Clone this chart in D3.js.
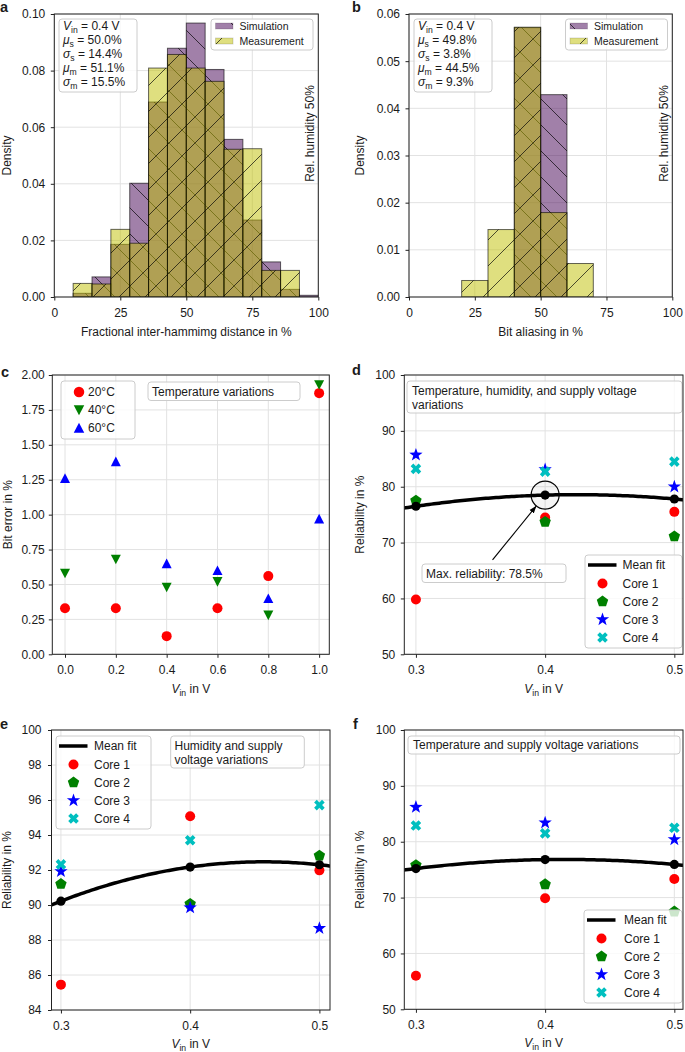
<!DOCTYPE html>
<html><head><meta charset="utf-8">
<script src="https://cdn.jsdelivr.net/npm/d3@7"></script>
<style>
body{margin:0;background:#fff}
svg{display:block}
text{font-family:"Liberation Sans",Arial,Helvetica,sans-serif;fill:#1a1a1a}
</style>
</head><body>
<svg id="chart" width="685" height="1052"></svg>
<script>
// ---------------- DATA ----------------
// Panel a: fractional inter-hamming distance histogram (density)
const binEdgesA = [0, 7.14, 14.29, 21.43, 28.57, 35.71, 42.86, 50, 57.14, 64.29, 71.43, 78.57, 85.71, 92.86, 100];
const simA  = [0, 0.0013, 0.0071, 0.0186, 0.0402, 0.0689, 0.0879, 0.0968, 0.0804, 0.0557, 0.0272, 0.0124, 0.0027, 0.0006];
const measA = [0, 0.0048, 0.0046, 0.0239, 0.0190, 0.0809, 0.0857, 0.0809, 0.0762, 0.0522, 0.0524, 0.0094, 0.0094, 0];
const statsA = ["0.4", "50.0", "14.4", "51.1", "15.5"];
// Panel b: bit aliasing histogram
const binEdgesB = [20, 30, 40, 50, 60, 70];
const simB  = [0, 0, 0.0571, 0.0429, 0];
const measB = [0.0035, 0.0143, 0.0572, 0.0179, 0.0071];
const statsB = ["0.4", "49.8", "3.8", "44.5", "9.3"];
// Panel c: bit error vs Vin at three temperatures
const vinC = [0.0, 0.2, 0.4, 0.6, 0.8, 1.0];
const err20 = [0.33, 0.33, 0.13, 0.33, 0.56, 1.87];
const err40 = [0.58, 0.68, 0.48, 0.52, 0.28, 1.93];
const err60 = [1.26, 1.38, 0.65, 0.60, 0.40, 0.97];
const tempLabels = ["20°C", "40°C", "60°C"];
// Panels d, e, f: reliability vs Vin for four cores
const vinR = [0.3, 0.4, 0.5];
const coreLabels = ["Core 1", "Core 2", "Core 3", "Core 4"];
const relD = [[59.8, 74.5, 75.5], [77.5, 73.7, 71.1], [85.7, 83.1, 80.0], [83.2, 82.7, 84.5]];
const meanD = [76.5, 78.5, 77.8];
const relE = [[85.45, 95.07, 91.98], [91.2, 90.06, 92.82], [91.92, 89.85, 88.67], [92.32, 93.7, 95.71]];
const meanE = [90.22, 92.17, 92.3];
const relF = [[56.0, 69.87, 73.33], [75.8, 72.37, 67.5], [86.2, 83.4, 80.4], [82.9, 81.5, 82.5]];
const meanF = [75.2, 76.8, 75.93];
// tick values
const ticksPct = [0, 25, 50, 75, 100];
const ticksDensA = [0, 0.02, 0.04, 0.06, 0.08, 0.10];
const ticksDensB = [0, 0.01, 0.02, 0.03, 0.04, 0.05, 0.06];
const ticksVinC = [0, 0.2, 0.4, 0.6, 0.8, 1.0];
const ticksErr = [0, 0.25, 0.5, 0.75, 1.0, 1.25, 1.5, 1.75, 2.0];
const ticksVinR = [0.3, 0.4, 0.5];
const ticksRel50 = [50, 60, 70, 80, 90, 100];
const ticksRel84 = [84, 86, 88, 90, 92, 94, 96, 98, 100];

// ---------------- STYLE ----------------
const simColor = "#440154", measColor = "#bfbf00";
const coreColors = ["#ff0000", "#008000", "#0000ff", "#00bfbf"];
const coreShapes = ["circle", "pentagon", "star", "x"];
const tempColors = ["#ff0000", "#008000", "#0000ff"];
const tempShapes = ["circle", "tridown", "triup"];
const HS = 26; // hatch spacing

const svg = d3.select("#chart");
const defs = svg.append("defs");

function makeHatch(id, back) {
  const p = defs.append("pattern").attr("id", id).attr("patternUnits", "userSpaceOnUse")
    .attr("width", HS).attr("height", HS);
  const d = back
    ? `M0,0L${HS},${HS}M-3,${HS-3}L3,${HS+3}M${HS-3},-3L${HS+3},3`
    : `M0,${HS}L${HS},0M-3,3L3,-3M${HS-3},${HS+3}L${HS+3},${HS-3}`;
  p.append("path").attr("d", d).attr("stroke", "#000").attr("stroke-width", 0.9)
    .attr("stroke-opacity", 0.75).attr("fill", "none");
}
makeHatch("hback", true);
makeHatch("hfwd", false);

function markerPath(type, s) {
  const r = s || 1;
  switch (type) {
    case "circle": return d3.symbol(d3.symbolCircle, Math.PI * 25 * r * r)();
    case "triup": return `M0,${-5*r}L${5*r},${4.6*r}L${-5*r},${4.6*r}Z`;
    case "tridown": return `M0,${5*r}L${5*r},${-4.6*r}L${-5*r},${-4.6*r}Z`;
    case "pentagon": {
      const R = 6 * r;
      return d3.range(5).map(k => {
        const a = -Math.PI / 2 + k * 2 * Math.PI / 5;
        return (k ? "L" : "M") + (R * Math.cos(a)).toFixed(2) + "," + (R * Math.sin(a)).toFixed(2);
      }).join("") + "Z";
    }
    case "star": {
      const R = 7 * r, ri = R * 0.4;
      return d3.range(10).map(k => {
        const a = -Math.PI / 2 + k * Math.PI / 5, rr = k % 2 ? ri : R;
        return (k ? "L" : "M") + (rr * Math.cos(a)).toFixed(2) + "," + (rr * Math.sin(a)).toFixed(2);
      }).join("") + "Z";
    }
    case "x": {
      const L = 5.6 * r, w = 1.9 * r;
      const pts = [[-w,-L],[w,-L],[w,-w],[L,-w],[L,w],[w,w],[w,L],[-w,L],[-w,w],[-L,w],[-L,-w],[-w,-w]];
      const c = Math.SQRT1_2;
      return pts.map((p, k) => (k ? "L" : "M") + ((p[0]-p[1])*c).toFixed(2) + "," + ((p[0]+p[1])*c).toFixed(2)).join("") + "Z";
    }
  }
}

function rich(sel, parts, size) {
  let shift = 0;
  parts.forEach(pt => {
    const ts = sel.append("tspan").text(pt.t);
    if (pt.it) ts.attr("font-style", "italic");
    if (pt.sub) { ts.attr("font-size", size * 0.72).attr("dy", 3 - shift); shift = 3; }
    else if (shift) { ts.attr("dy", -shift); shift = 0; }
  });
  return sel;
}

function box(g, x, y, w, h) {
  g.append("rect").attr("x", x).attr("y", y).attr("width", w).attr("height", h)
    .attr("rx", 3).attr("fill", "#fff").attr("fill-opacity", 0.8)
    .attr("stroke", "#cccccc").attr("stroke-width", 1);
}

function panel(p) {
  const g = svg.append("g");
  const x = d3.scaleLinear().domain(p.xDomain).range([p.left, p.right]);
  const y = d3.scaleLinear().domain(p.yDomain).range([p.bottom, p.top]);
  const clipId = "clip" + p.id;
  defs.append("clipPath").attr("id", clipId).append("rect")
    .attr("x", p.left).attr("y", p.top).attr("width", p.right - p.left).attr("height", p.bottom - p.top);
  const grid = g.append("g").attr("stroke", "#e2e2e2").attr("stroke-width", 1);
  grid.selectAll(".gx").data(p.xTicks).join("line")
    .attr("x1", d => x(d)).attr("x2", d => x(d)).attr("y1", p.top).attr("y2", p.bottom);
  grid.selectAll(".gy").data(p.yTicks).join("line")
    .attr("y1", d => y(d)).attr("y2", d => y(d)).attr("x1", p.left).attr("x2", p.right);
  const plot = g.append("g").attr("clip-path", `url(#${clipId})`);
  const over = g.append("g");
  function finish() {
    g.append("rect").attr("x", p.left).attr("y", p.top).attr("width", p.right - p.left)
      .attr("height", p.bottom - p.top).attr("fill", "none").attr("stroke", "#222").attr("stroke-width", 1);
    const ax = g.append("g").attr("transform", `translate(0,${p.bottom})`)
      .call(d3.axisBottom(x).tickValues(p.xTicks).tickFormat(d3.format(p.xFmt)).tickSizeInner(3.5).tickSizeOuter(0).tickPadding(8));
    const ay = g.append("g").attr("transform", `translate(${p.left},0)`)
      .call(d3.axisLeft(y).tickValues(p.yTicks).tickFormat(d3.format(p.yFmt)).tickSizeInner(3.5).tickSizeOuter(0).tickPadding(p.yPad || 5));
    [ax, ay].forEach(a => {
      a.select(".domain").remove();
      a.selectAll("line").attr("stroke", "#222");
      a.selectAll("text").attr("font-size", 12).attr("fill", "#1a1a1a")
        .attr("font-family", '"Liberation Sans",Arial,sans-serif');
    });
    // x label
    const xl = g.append("text").attr("x", (p.left + p.right) / 2).attr("y", p.bottom + p.xlabOff)
      .attr("text-anchor", "middle").attr("font-size", 12);
    rich(xl, p.xlabel, 12);
    g.append("text").attr("transform", `translate(${p.ylabX},${(p.top + p.bottom) / 2}) rotate(-90)`)
      .attr("text-anchor", "middle").attr("font-size", 12).text(p.ylabel);
    g.append("text").attr("x", p.letterX).attr("y", p.letterY).attr("font-size", 14.5)
      .attr("font-weight", "bold").text(p.letter);
  }
  return { g, x, y, plot, over, finish, p };
}

// ---------- histogram panels ----------
function histPanel(P, edges, sim, meas, stats, legX, statX) {
  const { x, y, plot, over } = P;
  [[sim, simColor, "hback"], [meas, measColor, "hfwd"]].forEach(([vals, col, hatch]) => {
    const bars = vals.map((v, i) => ({ x0: edges[i], x1: edges[i + 1], v })).filter(d => d.v > 0);
    const sel = plot.append("g").selectAll("g").data(bars).join("g");
    sel.append("rect").attr("x", d => x(d.x0)).attr("width", d => x(d.x1) - x(d.x0))
      .attr("y", d => y(d.v)).attr("height", d => y(0) - y(d.v)).attr("fill", col).attr("fill-opacity", 0.5);
    sel.append("rect").attr("x", d => x(d.x0)).attr("width", d => x(d.x1) - x(d.x0))
      .attr("y", d => y(d.v)).attr("height", d => y(0) - y(d.v)).attr("fill", `url(#${hatch})`)
      .attr("stroke", "#000").attr("stroke-opacity", 0.6).attr("stroke-width", 1);
  });
  // stats box
  box(over, statX, 19, 78, 73);
  const lines = [
    [{ t: "V", it: true }, { t: "in", sub: true }, { t: ` = ${stats[0]} V` }],
    [{ t: "μ", it: true }, { t: "s", sub: true }, { t: ` = ${stats[1]}%` }],
    [{ t: "σ", it: true }, { t: "s", sub: true }, { t: ` = ${stats[2]}%` }],
    [{ t: "μ", it: true }, { t: "m", sub: true }, { t: ` = ${stats[3]}%` }],
    [{ t: "σ", it: true }, { t: "m", sub: true }, { t: ` = ${stats[4]}%` }]
  ];
  lines.forEach((ln, i) => {
    rich(over.append("text").attr("x", statX + 4).attr("y", 30 + i * 14).attr("font-size", 12), ln, 12);
  });
  // legend
  box(over, legX, 19, 102, 31);
  [["Simulation", simColor, "hback"], ["Measurement", measColor, "hfwd"]].forEach((e, i) => {
    const cy = 26 + i * 15;
    over.append("rect").attr("x", legX + 4.5).attr("y", cy - 3).attr("width", 17.5).attr("height", 6)
      .attr("fill", e[1]).attr("fill-opacity", 0.5);
    over.append("rect").attr("x", legX + 4.5).attr("y", cy - 3).attr("width", 17.5).attr("height", 6)
      .attr("fill", `url(#${e[2]})`).attr("stroke", "#000").attr("stroke-opacity", 0.15);
    over.append("text").attr("x", legX + 28.5).attr("y", cy + 3.7).attr("font-size", 10.5).text(e[0]);
  });
  const rx = P.p.right - 4.5;
  over.append("text").attr("transform", `translate(${rx},133.5) rotate(-90)`)
    .attr("text-anchor", "middle").attr("font-size", 12).text("Rel. humidity 50%");
}

const A = panel({ id: "a", left: 54.3, right: 318.3, top: 14, bottom: 297, xDomain: [0, 100], yDomain: [0, 0.1],
  xTicks: ticksPct, yTicks: ticksDensA, xFmt: "d", yFmt: ".2f", yPad: 5.5,
  xlabel: [{ t: "Fractional inter-hammimg distance in %" }], xlabOff: 39, ylabel: "Density", ylabX: 11,
  letter: "a", letterX: 0, letterY: 11.5 });
histPanel(A, binEdgesA, simA, measA, statsA, 211, 59);
A.finish();

const B = panel({ id: "b", left: 409, right: 672.3, top: 14, bottom: 297, xDomain: [0, 100], yDomain: [0, 0.06],
  xTicks: ticksPct, yTicks: ticksDensB, xFmt: "d", yFmt: ".2f", yPad: 5.5,
  xlabel: [{ t: "Bit aliasing in %" }], xlabOff: 39, ylabel: "Density", ylabX: 364,
  letter: "b", letterX: 352, letterY: 11.5 });
histPanel(B, binEdgesB, simB, measB, statsB, 565.5, 414);
B.finish();

// ---------- panel c ----------
const vinLabel = [{ t: "V", it: true }, { t: "in", sub: true }, { t: " in V" }];
const C = panel({ id: "c", left: 52.3, right: 329.3, top: 375, bottom: 654.3, xDomain: [-0.05, 1.04], yDomain: [0, 2],
  xTicks: ticksVinC, yTicks: ticksErr, xFmt: ".1f", yFmt: ".2f", yPad: 4,
  xlabel: vinLabel, xlabOff: 38.5, ylabel: "Bit error in %", ylabX: 11.5,
  letter: "c", letterX: 1, letterY: 376.5 });
[err20, err40, err60].forEach((vals, s) => {
  C.plot.append("g").selectAll("path").data(vals).join("path")
    .attr("transform", (d, i) => `translate(${C.x(vinC[i])},${C.y(d)})`)
    .attr("d", markerPath(tempShapes[s])).attr("fill", tempColors[s]);
});
box(C.over, 61, 381, 74, 58);
tempLabels.forEach((lab, i) => {
  const cy = 392 + i * 18;
  C.over.append("path").attr("transform", `translate(79,${cy})`).attr("d", markerPath(tempShapes[i], 1.05)).attr("fill", tempColors[i]);
  C.over.append("text").attr("x", 88).attr("y", cy + 4.3).attr("font-size", 12).text(lab);
});
box(C.over, 148, 382, 152, 18.5);
C.over.append("text").attr("x", 152).attr("y", 395.5).attr("font-size", 12).text("Temperature variations");
C.finish();

// ---------- reliability panels ----------
function polyfit2(xs, ys) {
  const xm = d3.mean(xs);
  const u = xs.map(v => v - xm);
  const S = k => d3.sum(u, v => Math.pow(v, k));
  const T = k => d3.sum(u.map((v, i) => Math.pow(v, k) * ys[i]));
  const M = [[S(0), S(1), S(2)], [S(1), S(2), S(3)], [S(2), S(3), S(4)]];
  const b = [T(0), T(1), T(2)];
  const det = m => m[0][0]*(m[1][1]*m[2][2]-m[1][2]*m[2][1]) - m[0][1]*(m[1][0]*m[2][2]-m[1][2]*m[2][0]) + m[0][2]*(m[1][0]*m[2][1]-m[1][1]*m[2][0]);
  const D = det(M);
  const coef = [0, 1, 2].map(c => det(M.map((row, r) => row.map((v, j) => j === c ? b[r] : v))) / D);
  return xv => coef[0] + coef[1] * (xv - xm) + coef[2] * (xv - xm) * (xv - xm);
}

function relPanel(P, rel, mean, leg) {
  const { x, y, plot, over } = P;
  rel.forEach((vals, c) => {
    plot.append("g").selectAll("path").data(vals).join("path")
      .attr("transform", (d, i) => `translate(${x(vinR[i])},${y(d)})`)
      .attr("d", markerPath(coreShapes[c])).attr("fill", coreColors[c]);
  });
  const f = polyfit2(vinR, mean);
  const dom = x.domain();
  const xs = d3.range(dom[0] - 0.005, dom[1] + 0.006, 0.002);
  plot.append("path").datum(xs).attr("d", d3.line().x(v => x(v)).y(v => y(f(v))))
    .attr("fill", "none").attr("stroke", "#000").attr("stroke-width", 3.5);
  plot.append("g").selectAll("circle").data(mean).join("circle")
    .attr("cx", (d, i) => x(vinR[i])).attr("cy", d => y(d)).attr("r", 4.6).attr("fill", "#000");
  // legend
  box(over, leg.x, leg.y, leg.w, 93);
  over.append("line").attr("x1", leg.x + 3).attr("x2", leg.x + 31.5)
    .attr("y1", leg.y + 10).attr("y2", leg.y + 10).attr("stroke", "#000").attr("stroke-width", 3.5);
  over.append("text").attr("x", leg.x + leg.tx).attr("y", leg.y + 14.3).attr("font-size", 12).text("Mean fit");
  coreLabels.forEach((lab, i) => {
    const cy = leg.y + 28.5 + i * 18;
    over.append("path").attr("transform", `translate(${leg.x + 17.5},${cy})`)
      .attr("d", markerPath(coreShapes[i])).attr("fill", coreColors[i]);
    over.append("text").attr("x", leg.x + leg.tx).attr("y", cy + 4.3).attr("font-size", 12).text(lab);
  });
}

const D = panel({ id: "d", left: 404.3, right: 683, top: 375, bottom: 654.3, xDomain: [0.291, 0.5067], yDomain: [50, 100],
  xTicks: ticksVinR, yTicks: ticksRel50, xFmt: ".1f", yFmt: "d", yPad: 5.5,
  xlabel: vinLabel, xlabOff: 38.5, ylabel: "Reliability in %", ylabX: 364,
  letter: "d", letterX: 352, letterY: 375 });
relPanel(D, relD, meanD, { x: 585, y: 555, w: 97, tx: 37.5 });
// annotation of the maximum
{
  const cx = D.x(vinR[1]), cy = D.y(meanD[1]);
  D.over.append("circle").attr("cx", cx).attr("cy", cy).attr("r", 14)
    .attr("fill", "#000").attr("fill-opacity", 0.04).attr("stroke", "#000").attr("stroke-width", 1.2);
  defs.append("marker").attr("id", "arrowhead").attr("viewBox", "0 0 10 10").attr("refX", 9).attr("refY", 5)
    .attr("markerWidth", 7).attr("markerHeight", 7).attr("orient", "auto")
    .append("path").attr("d", "M0,1.5L10,5L0,8.5Z").attr("fill", "#000");
  const tx = D.x(0.3593), ty = D.y(66.9);
  const ang = Math.atan2(ty - cy, tx - cx);
  D.over.append("line").attr("x1", tx).attr("y1", ty)
    .attr("x2", cx + 14.5 * Math.cos(ang)).attr("y2", cy + 14.5 * Math.sin(ang))
    .attr("stroke", "#000").attr("stroke-width", 1.1).attr("marker-end", "url(#arrowhead)");
  box(D.over, 422, 564, 144, 18.5);
  D.over.append("text").attr("x", 426).attr("y", 577.5).attr("font-size", 12).text("Max. reliability: " + meanD[1].toFixed(1) + "%");
  box(D.over, 407, 381, 275, 32);
  D.over.append("text").attr("x", 412).attr("y", 394.5).attr("font-size", 12).text("Temperature, humidity, and supply voltage");
  D.over.append("text").attr("x", 412).attr("y", 408.5).attr("font-size", 12).text("variations");
}
D.finish();

const E = panel({ id: "e", left: 51.5, right: 330, top: 730, bottom: 1010, xDomain: [0.2927, 0.5082], yDomain: [84, 100],
  xTicks: ticksVinR, yTicks: ticksRel84, xFmt: ".1f", yFmt: "d", yPad: 6.5,
  xlabel: vinLabel, xlabOff: 37.5, ylabel: "Reliability in %", ylabX: 11,
  letter: "e", letterX: 0, letterY: 729 });
relPanel(E, relE, meanE, { x: 56, y: 736, w: 95, tx: 38 });
box(E.over, 170.7, 736, 133.6, 32);
E.over.append("text").attr("x", 174.5).attr("y", 749.5).attr("font-size", 12).text("Humidity and supply");
E.over.append("text").attr("x", 174.5).attr("y", 763.5).attr("font-size", 12).text("voltage variations");
E.finish();

const F = panel({ id: "f", left: 404.3, right: 683, top: 730, bottom: 1009.3, xDomain: [0.291, 0.5067], yDomain: [50, 100],
  xTicks: ticksVinR, yTicks: ticksRel50, xFmt: ".1f", yFmt: "d", yPad: 5,
  xlabel: vinLabel, xlabOff: 37.5, ylabel: "Reliability in %", ylabX: 364,
  letter: "f", letterX: 353, letterY: 729 });
box(F.over, 408, 736, 272, 18);
F.over.append("text").attr("x", 413).attr("y", 749).attr("font-size", 12).text("Temperature and supply voltage variations");
relPanel(F, relF, meanF, { x: 584, y: 910, w: 98, tx: 40 });
F.finish();
</script>
</body></html>
